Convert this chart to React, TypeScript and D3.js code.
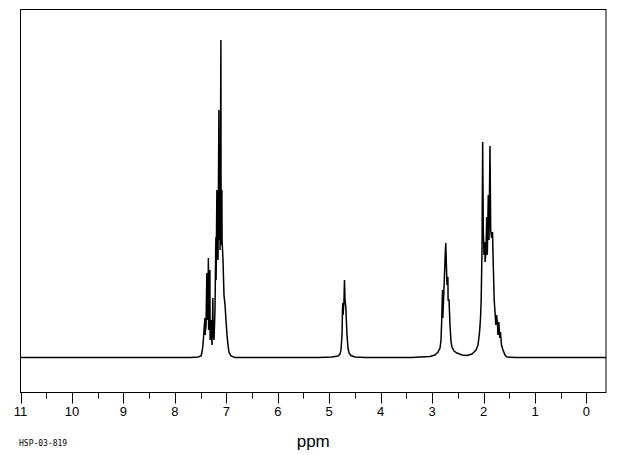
import React from "react";
import * as d3 from "d3";

// Spectrum trace (ppm, relative intensity above baseline)
const PPM: number[] = [
  11.0, 7.7, 7.55, 7.492, 7.472, 7.453, 7.433, 7.416, 7.412, 7.394, 7.378, 7.372, 7.356, 7.348, 7.344,
  7.327, 7.319, 7.315, 7.297, 7.278, 7.261, 7.257, 7.239, 7.22, 7.202, 7.198, 7.183, 7.179, 7.161,
  7.144, 7.14, 7.125, 7.121, 7.105, 7.101, 7.086, 7.082, 7.064, 7.045, 7.025, 7.006, 6.986, 6.967,
  6.948, 6.909, 6.831,
  5.2, 4.95, 4.829, 4.79, 4.771, 4.751, 4.742, 4.734, 4.73, 4.712, 4.703, 4.693, 4.675, 4.671, 4.654,
  4.635, 4.615, 4.576, 4.5, 4.3,
  3.4, 3.235, 3.041, 2.944, 2.885, 2.846, 2.827, 2.813, 2.802, 2.796, 2.792, 2.778, 2.759, 2.749,
  2.735, 2.724, 2.71, 2.693, 2.689, 2.671, 2.652, 2.632, 2.613, 2.574, 2.516, 2.419, 2.322, 2.224,
  2.147, 2.108, 2.079, 2.059, 2.046, 2.03, 2.017, 2.005, 1.991, 1.974, 1.97, 1.952, 1.939, 1.927,
  1.908, 1.894, 1.875, 1.861, 1.845, 1.826, 1.81, 1.793, 1.777, 1.762, 1.748, 1.732, 1.719, 1.703,
  1.685, 1.671, 1.651, 1.622, 1.583, 1.544, 1.389, -0.38,
];
const INTENSITY: number[] = [
  0, 0, 0.5, 1.5, 5.5, 12.5, 27.5, 39.5, 22.5, 32.5, 84.5, 37.5, 57.5, 99.5, 27.5,
  57.5, 87.5, 17.5, 37.5, 12.5, 59.5, 27.5, 17.5, 47.5, 120.5, 77.5, 167.5, 107.5, 97.5,
  247.5, 117.5, 157.5, 107.5, 317.5, 112.5, 167.5, 117.5, 97.5, 62.5, 52.5, 37.5, 22.5, 12.5,
  5.5, 1.5, 0,
  0, 0.5, 1.5, 3.5, 7.5, 22.5, 47.5, 54.5, 42.5, 57.5, 77.5, 57.5, 49.5, 42.5, 22.5,
  9.5, 4.5, 2, 0.5, 0,
  0, 0.5, 1, 2.5, 5.5, 9.5, 17.5, 37.5, 59.5, 67.5, 39.5, 57.5, 82.5, 97.5,
  114.5, 95.5, 72.5, 80.5, 57.5, 57.5, 32.5, 15.5, 10.5, 6.5, 4.5, 2.5, 2, 3.5,
  7.5, 12.5, 24.5, 39.5, 57.5, 107.5, 215.5, 127.5, 102.5, 115.5, 95.5, 107.5, 140.5, 102.5,
  162.5, 117.5, 211.5, 127.5, 119.5, 125.5, 90.5, 57.5, 45.5, 32.5, 42.5, 35.5, 22.5, 35.5,
  19.5, 25.5, 12.5, 7.5, 2.5, 0.5, 0, 0,
];

const MAJOR_TICKS: number[] = [11, 10, 9, 8, 7, 6, 5, 4, 3, 2, 1, 0];
const MINOR_TICKS: number[] = [10.5, 9.5, 8.5, 7.5, 6.5, 5.5, 4.5, 3.5, 2.5, 1.5, 0.5];
const X_LABEL = "ppm";
const SAMPLE_ID = "HSP-03-819";

export default function App() {
  const left = 20.5, right = 606, top = 9.5, bottom = 392.5;
  const x = d3.scaleLinear().domain([11, -0.38]).range([left, right]);
  const y = d3.scaleLinear().domain([0, 317.5]).range([357.5, 40]);
  const line = d3
    .line<number>()
    .x((_, i) => x(PPM[i]))
    .y((d) => y(d));
  const path = line(INTENSITY) || "";
  const font = "'Liberation Sans', Arial, sans-serif";
  return (
    <svg
      width={620}
      height={455}
      style={{ position: "absolute", left: 0, top: 0, background: "#fff" }}
    >
      <rect x={0} y={0} width={620} height={455} fill="#fff" />
      <path d={path} fill="none" stroke="#000" strokeWidth={1.5} strokeLinejoin="miter" />
      <rect
        x={left}
        y={top}
        width={right - left}
        height={bottom - top}
        fill="none"
        stroke="#000"
        strokeWidth={1}
      />
      {MAJOR_TICKS.map((t) => (
        <g key={"M" + t}>
          <line
            x1={Math.round(x(t)) + 0.5}
            x2={Math.round(x(t)) + 0.5}
            y1={bottom}
            y2={bottom + 11}
            stroke="#000"
            strokeWidth={1}
          />
          <text
            x={x(t)}
            y={416}
            textAnchor="middle"
            fontFamily={font}
            fontSize={13}
            fill="#000"
          >
            {t}
          </text>
        </g>
      ))}
      {MINOR_TICKS.map((t) => (
        <line
          key={"m" + t}
          x1={Math.round(x(t)) + 0.5}
          x2={Math.round(x(t)) + 0.5}
          y1={bottom}
          y2={bottom + 6}
          stroke="#000"
          strokeWidth={1}
        />
      ))}
      <text
        x={(left + right) / 2}
        y={447}
        textAnchor="middle"
        fontFamily={font}
        fontSize={17}
        fill="#000"
      >
        {X_LABEL}
      </text>
      <text
        x={19}
        y={446}
        fontFamily="'DejaVu Sans Mono', monospace"
        fontSize={8}
        fill="#000"
      >
        {SAMPLE_ID}
      </text>
    </svg>
  );
}
